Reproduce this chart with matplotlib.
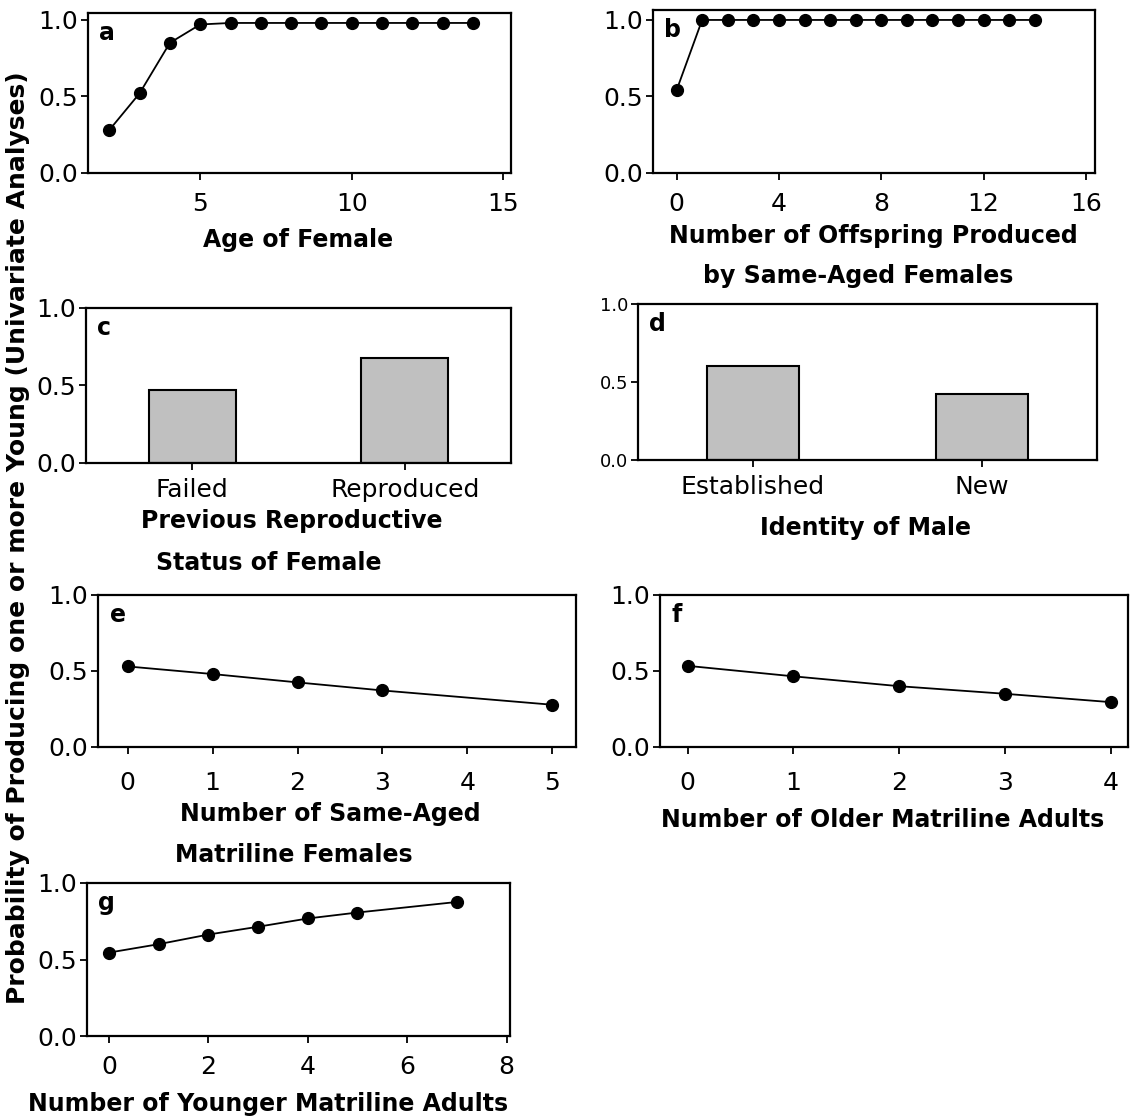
import numpy as np
import matplotlib
matplotlib.use("Agg")
import matplotlib.pyplot as plt

# data
age = [2, 3, 4, 5, 6, 7, 8, 9, 10, 11, 12, 13, 14]
p_age = [0.28, 0.52, 0.85, 0.97, 0.98, 0.98, 0.98, 0.98, 0.98, 0.98, 0.98, 0.98, 0.98]

offspring = [0, 1, 2, 3, 4, 5, 6, 7, 8, 9, 10, 11, 12, 13, 14]
p_offspring = [0.54, 1.0, 1.0, 1.0, 1.0, 1.0, 1.0, 1.0, 1.0, 1.0, 1.0, 1.0, 1.0, 1.0, 1.0]

status = ["Failed", "Reproduced"]
p_status = [0.47, 0.675]

male = ["Established", "New"]
p_male = [0.605, 0.425]

same_aged = [0, 1, 2, 3, 5]
p_same_aged = [0.53, 0.48, 0.425, 0.372, 0.278]

older = [0, 1, 2, 3, 4]
p_older = [0.534, 0.465, 0.40, 0.35, 0.295]

younger = [0, 1, 2, 3, 4, 5, 7]
p_younger = [0.545, 0.60, 0.663, 0.714, 0.768, 0.807, 0.876]

plt.rcParams['font.family'] = 'DejaVu Sans'
W, H = 1137, 1120
fig = plt.figure(figsize=(W/100, H/100), dpi=100)

def box(x0, x1, y0, y1):
    # pixel box -> figure fraction
    return fig.add_axes([x0/W, 1 - y1/H, (x1 - x0)/W, (y1 - y0)/H])

def style(ax, letter, tick_size=18, xpad=9):
    for s in ax.spines.values():
        s.set_linewidth(1.6)
    ax.tick_params(direction='out', length=5, width=1.3, labelsize=tick_size,
                   top=False, right=False)
    ax.tick_params(axis='x', pad=xpad)
    ax.tick_params(axis='y', pad=2)
    ax.set_yticks([0, 0.5, 1.0])
    ax.set_yticklabels(['0.0', '0.5', '1.0'])
    ax.text(0.025, 0.95, letter, transform=ax.transAxes, va='top', ha='left',
            fontsize=17, fontweight='bold')

def line(ax, x, y):
    ax.plot(x, y, color='black', lw=1.3, marker='o', markersize=8.5)

def label(txt, cx, cy):
    # axis title line, centred on a pixel position
    fig.text(cx/W, 1 - cy/H, txt, ha='center', va='center',
             fontsize=17, fontweight='bold')

ax = box(88, 511, 13, 173)
line(ax, age, p_age)
ax.set_xlim(1.3, 15.25); ax.set_ylim(0, 1.045)
ax.set_xticks([5, 10, 15])
style(ax, 'a')
label("Age of Female", 298, 240)

ax = box(653, 1095, 10, 173)
line(ax, offspring, p_offspring)
ax.set_xlim(-0.92, 16.35); ax.set_ylim(0, 1.065)
ax.set_xticks([0, 4, 8, 12, 16])
style(ax, 'b')
label("Number of Offspring Produced", 873, 236)
label("by Same-Aged Females", 858, 276)

ax = box(86, 511, 308, 463)
ax.bar(range(len(status)), p_status, width=0.41, color='#c0c0c0',
       edgecolor='black', lw=1.5)
ax.set_xlim(-0.5, 1.5); ax.set_ylim(0, 1.0)
ax.set_xticks(range(len(status)))
ax.set_xticklabels(status)
style(ax, 'c', xpad=6)
label("Previous Reproductive", 292, 521)
label("Status of Female", 269, 563)

ax = box(638, 1097, 304, 460)
ax.bar(range(len(male)), p_male, width=0.4, color='#c0c0c0',
       edgecolor='black', lw=1.5)
ax.set_xlim(-0.5, 1.5); ax.set_ylim(0, 1.0)
ax.set_xticks(range(len(male)))
ax.set_xticklabels(male)
style(ax, 'd', tick_size=13, xpad=6)
ax.tick_params(axis='x', labelsize=18)
label("Identity of Male", 866, 528)

ax = box(98, 576, 595, 747)
line(ax, same_aged, p_same_aged)
ax.set_xlim(-0.35, 5.28); ax.set_ylim(0, 1.0)
ax.set_xticks([0, 1, 2, 3, 4, 5])
style(ax, 'e', xpad=12)
label("Number of Same-Aged", 330, 814)
label("Matriline Females", 294, 855)

ax = box(660, 1128, 595, 747)
line(ax, older, p_older)
ax.set_xlim(-0.26, 4.16); ax.set_ylim(0, 1.0)
ax.set_xticks([0, 1, 2, 3, 4])
style(ax, 'f', xpad=12)
label("Number of Older Matriline Adults", 883, 820)

ax = box(87, 510, 883, 1036)
line(ax, younger, p_younger)
ax.set_xlim(-0.44, 8.07); ax.set_ylim(0, 1.0)
ax.set_xticks([0, 2, 4, 6, 8])
style(ax, 'g')
label("Number of Younger Matriline Adults", 268, 1104)

fig.text(18/W, 1 - 538/H,
         "Probability of Producing one or more Young (Univariate Analyses)",
         rotation=90, ha='center', va='center', fontsize=18, fontweight='bold')

fig.savefig("out.png", dpi=100)
